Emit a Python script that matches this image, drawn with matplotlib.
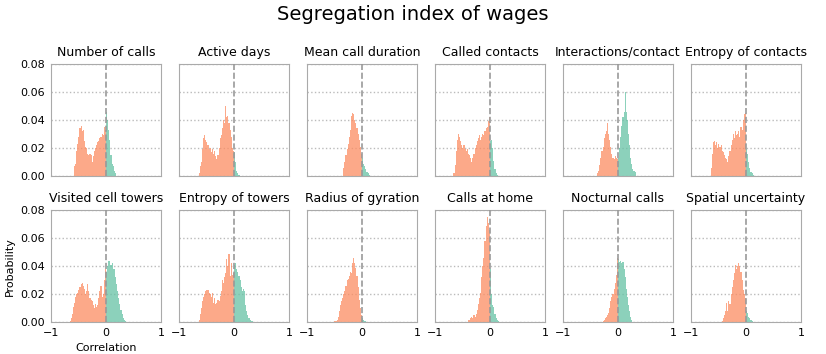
import numpy as np
import matplotlib
matplotlib.use("Agg")
import matplotlib.pyplot as plt

# bin width of the histograms, negative bins end at 0, positive bins start at 0
bin_w = 0.02

titles = ["Number of calls", "Active days", "Mean call duration",
          "Called contacts", "Interactions/contact", "Entropy of contacts",
          "Visited cell towers", "Entropy of towers", "Radius of gyration",
          "Calls at home", "Nocturnal calls", "Spatial uncertainty"]

calls_neg = [0.007, 0.009, 0.018, 0.023, 0.028, 0.034, 0.036, 0.032, 0.033, 0.025,
             0.021, 0.020, 0.016, 0.015, 0.016, 0.015, 0.010, 0.014, 0.018, 0.020,
             0.022, 0.024, 0.025, 0.027, 0.028, 0.030, 0.029, 0.035, 0.033]
calls_pos = [0.046, 0.040, 0.033, 0.026, 0.015, 0.009, 0.007, 0.004, 0.002]

days_neg = [0.002, 0.007, 0.010, 0.019, 0.027, 0.029, 0.026, 0.024, 0.022, 0.019,
            0.020, 0.017, 0.019, 0.016, 0.018, 0.014, 0.012, 0.015, 0.020, 0.027,
            0.029, 0.034, 0.040, 0.038, 0.050, 0.042, 0.043, 0.038, 0.033, 0.028,
            0.020, 0.018]
days_pos = [0.017, 0.010, 0.004, 0.002, 0.001]

duration_neg = [0.006, 0.010, 0.015, 0.019, 0.023, 0.028, 0.033, 0.043, 0.045, 0.044,
                0.040, 0.038, 0.034, 0.030, 0.026, 0.021, 0.016]
duration_pos = [0.013, 0.009, 0.007, 0.005, 0.003, 0.002, 0.001]

contacts_neg = [0.002, 0.008, 0.018, 0.026, 0.030, 0.028, 0.025, 0.022, 0.020, 0.022,
                0.019, 0.018, 0.019, 0.016, 0.015, 0.013, 0.010, 0.013, 0.016, 0.020,
                0.022, 0.025, 0.027, 0.029, 0.026, 0.028, 0.030, 0.029, 0.032, 0.034,
                0.035, 0.039, 0.042]
contacts_pos = [0.025, 0.026, 0.020, 0.011, 0.005, 0.002, 0.001]

inter_neg = [0.002, 0.004, 0.008, 0.013, 0.018, 0.021, 0.027, 0.030, 0.032, 0.038,
             0.030, 0.026, 0.021, 0.016, 0.013, 0.012, 0.014, 0.013, 0.012]
inter_pos = [0.013, 0.020, 0.028, 0.036, 0.042, 0.046, 0.060, 0.046, 0.040, 0.030,
             0.022, 0.013, 0.009, 0.005, 0.004, 0.003]

ent_contacts_neg = [0.006, 0.016, 0.024, 0.025, 0.022, 0.024, 0.020, 0.023, 0.021, 0.022,
                    0.018, 0.017, 0.015, 0.013, 0.012, 0.010, 0.014, 0.018, 0.022, 0.026,
                    0.030, 0.027, 0.032, 0.029, 0.030, 0.032, 0.028, 0.035, 0.033, 0.040,
                    0.044, 0.045]
ent_contacts_pos = [0.019, 0.016, 0.010, 0.006, 0.003, 0.002, 0.001]

towers_neg = [0.001, 0.003, 0.006, 0.011, 0.014, 0.018, 0.020, 0.021, 0.023, 0.025,
              0.027, 0.028, 0.026, 0.024, 0.020, 0.022, 0.027, 0.022, 0.017, 0.016,
              0.015, 0.012, 0.010, 0.013, 0.011, 0.012, 0.017, 0.022, 0.026, 0.018,
              0.020, 0.030, 0.038]
towers_pos = [0.036, 0.040, 0.044, 0.044, 0.041, 0.042, 0.038, 0.038, 0.032, 0.027,
              0.022, 0.017, 0.013, 0.009, 0.006, 0.003, 0.002, 0.001]

ent_towers_neg = [0.002, 0.006, 0.010, 0.015, 0.018, 0.020, 0.022, 0.023, 0.023, 0.021,
                  0.020, 0.018, 0.021, 0.014, 0.017, 0.013, 0.014, 0.016, 0.015, 0.019,
                  0.022, 0.030, 0.028, 0.032, 0.035, 0.045, 0.040, 0.049, 0.033, 0.042,
                  0.034, 0.035]
ent_towers_pos = [0.041, 0.042, 0.038, 0.036, 0.033, 0.030, 0.025, 0.022, 0.024, 0.022,
                  0.012, 0.008, 0.005, 0.003, 0.002, 0.001, 0.001]

gyration_neg = [0.001, 0.001, 0.002, 0.004, 0.008, 0.012, 0.015, 0.017, 0.020, 0.022,
                0.026, 0.030, 0.031, 0.033, 0.036, 0.035, 0.042, 0.046, 0.042, 0.039,
                0.033, 0.025, 0.016, 0.010, 0.005]
gyration_pos = [0.003, 0.002, 0.001, 0.001]

home_neg = [0.002, 0.002, 0.003, 0.004, 0.003, 0.005, 0.004, 0.006, 0.009, 0.013,
            0.017, 0.021, 0.032, 0.040, 0.046, 0.058, 0.069, 0.075, 0.071, 0.066]
home_pos = [0.038, 0.020, 0.012, 0.011, 0.006, 0.003, 0.002, 0.001]

night_neg = [0.001, 0.002, 0.003, 0.004, 0.005, 0.007, 0.010, 0.015, 0.018, 0.020,
             0.024, 0.028, 0.034, 0.046]
night_pos = [0.045, 0.043, 0.044, 0.042, 0.043, 0.038, 0.032, 0.024, 0.018, 0.012,
             0.008, 0.004, 0.002]

uncert_neg = [0.001, 0.003, 0.005, 0.008, 0.014, 0.008, 0.015, 0.013, 0.020, 0.025,
              0.030, 0.035, 0.041, 0.038, 0.040, 0.042, 0.040, 0.036, 0.030, 0.023,
              0.020, 0.017]
uncert_pos = [0.008, 0.007, 0.004, 0.003, 0.002, 0.001]

neg_hists = [calls_neg, days_neg, duration_neg, contacts_neg, inter_neg, ent_contacts_neg,
             towers_neg, ent_towers_neg, gyration_neg, home_neg, night_neg, uncert_neg]
pos_hists = [calls_pos, days_pos, duration_pos, contacts_pos, inter_pos, ent_contacts_pos,
             towers_pos, ent_towers_pos, gyration_pos, home_pos, night_pos, uncert_pos]

orange = "#fc8d62"
green = "#66c2a5"

fig, axes = plt.subplots(2, 6, figsize=(8.26, 3.54), dpi=100, sharex=True, sharey=True)
fig.subplots_adjust(left=0.0614, right=0.9701, top=0.8192, bottom=0.0895,
                    wspace=0.157, hspace=0.304)

for i, ax in enumerate(axes.flat):
    neg = np.array(neg_hists[i])
    pos = np.array(pos_hists[i])
    neg_edges = -bin_w * np.arange(len(neg), 0, -1)
    pos_edges = bin_w * np.arange(len(pos))
    ax.bar(neg_edges, neg, width=bin_w, align="edge", color=orange, alpha=0.75, linewidth=0)
    ax.bar(pos_edges, pos, width=bin_w, align="edge", color=green, alpha=0.75, linewidth=0)
    ax.axvline(0, color="#999999", linestyle="--", linewidth=1.2, zorder=3)

    ax.set_xlim(-1, 1)
    ax.set_ylim(0, 0.08)
    ax.set_xticks([-1, 0, 1])
    ax.set_yticks([0, 0.02, 0.04, 0.06, 0.08])
    ax.yaxis.set_major_formatter(matplotlib.ticker.FormatStrFormatter("%.2f"))
    ax.grid(axis="y", linestyle=":", color="#bbbbbb", linewidth=1)
    ax.set_axisbelow(True)
    for sp in ax.spines.values():
        sp.set_color("#aaaaaa")
    ax.tick_params(length=0, labelsize=8, pad=4)
    ax.set_title(titles[i], fontsize=9)

axes[1, 0].set_ylabel("Probability", fontsize=8)
axes[1, 0].set_xlabel("Correlation", fontsize=8)

fig.suptitle("Segregation index of wages", fontsize=14, y=0.985)

fig.savefig("out.png", dpi=100)
